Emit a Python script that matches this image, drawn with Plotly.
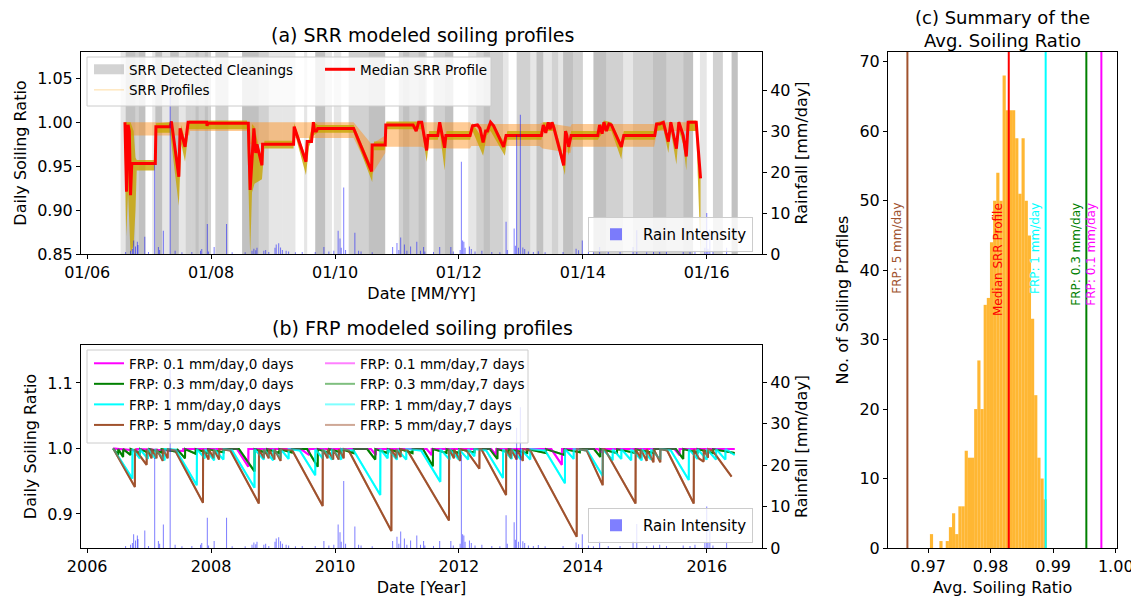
import numpy as np
import pandas as pd
import plotly.graph_objects as go

# ---------------- DATA ----------------
# Daily rain events: decimal year, mm/day
rain_year = [2006.62, 2006.70, 2006.73, 2006.75, 2006.78, 2006.81, 2006.82, 2006.93, 2006.99,
             2007.09, 2007.15, 2007.17, 2007.23, 2007.34, 2007.42, 2007.53, 2007.69, 2007.83,
             2007.85, 2007.94, 2007.96, 2008.05, 2008.25, 2008.34, 2008.55, 2008.66, 2008.69,
             2008.72, 2008.74, 2008.85, 2008.88, 2008.93, 2009.03, 2009.05, 2009.09, 2009.12,
             2009.15, 2009.21, 2009.25, 2009.36, 2009.47, 2009.68, 2009.82, 2009.90, 2009.98,
             2010.05, 2010.08, 2010.10, 2010.14, 2010.17, 2010.32, 2010.38, 2010.42, 2010.60,
             2010.93, 2011.00, 2011.03, 2011.06, 2011.12, 2011.16, 2011.22, 2011.32, 2011.38,
             2011.43, 2011.45, 2011.59, 2011.69, 2011.87, 2011.91, 2012.02, 2012.04, 2012.06,
             2012.08, 2012.10, 2012.17, 2012.20, 2012.26, 2012.37, 2012.53, 2012.66, 2012.76,
             2012.78, 2012.89, 2012.91, 2012.93, 2012.96, 2012.99, 2013.03, 2013.06, 2013.12,
             2013.20, 2013.28, 2013.39, 2013.68, 2013.89, 2013.93, 2013.99, 2014.09, 2014.17,
             2014.27, 2014.41, 2014.60, 2014.81, 2014.87, 2015.03, 2015.14, 2015.24, 2015.35,
             2015.62, 2015.73, 2015.81, 2015.97, 2016.00, 2016.02, 2016.05, 2016.10, 2016.32]
rain_mm = [0.5, 0.8, 1.2, 3.3, 1.8, 3.0, 2.2, 4.2, 0.5,
           21.8, 1.7, 1.0, 5.7, 43.0, 0.8, 0.4, 0.5, 0.8,
           1.2, 7.3, 0.6, 1.7, 7.3, 0.4, 0.4, 0.8, 1.3,
           0.9, 1.5, 0.8, 1.0, 0.5, 1.5, 2.3, 2.6, 1.6,
           1.0, 0.8, 0.6, 0.4, 0.5, 0.5, 1.7, 0.6, 0.8,
           5.7, 3.8, 1.5, 16.2, 1.0, 5.2, 0.8, 0.6, 0.4,
           1.7, 2.7, 1.0, 4.0, 2.3, 0.8, 1.8, 3.0, 0.8,
           1.7, 0.6, 0.5, 1.7, 1.7, 0.6, 1.0, 22.5, 3.3,
           3.0, 1.5, 1.8, 1.2, 0.6, 0.8, 0.5, 0.4, 7.9,
           1.0, 6.2, 2.0, 29.0, 1.5, 34.0, 1.6, 1.2, 0.6,
           0.5, 0.7, 0.4, 0.5, 1.3, 0.9, 3.3, 0.6, 0.4,
           1.7, 0.5, 0.5, 1.7, 5.8, 0.4, 0.6, 0.8, 0.5,
           0.6, 0.5, 0.8, 1.5, 10.0, 1.3, 6.0, 0.6, 1.5]

# SRR detected cleaning periods (decimal year) and number of overlapping detections
clean_start = [2006.54, 2006.62, 2006.78, 2006.83, 2007.05, 2007.10, 2007.21, 2007.34, 2007.48,
               2007.59, 2007.69, 2007.75, 2007.90, 2008.07, 2008.50, 2008.77, 2008.93, 2009.15,
               2009.50, 2009.68, 2009.84, 2009.98, 2010.22, 2010.54, 2011.03, 2011.10, 2011.35,
               2011.59, 2011.77, 2012.15, 2012.28, 2012.40, 2012.71, 2012.93, 2013.15, 2013.25,
               2013.36, 2013.50, 2013.68, 2013.84, 2014.17, 2014.38, 2014.65, 2014.81, 2015.13,
               2015.35, 2015.62, 2015.89, 2016.10, 2016.40]
clean_end = [2006.62, 2006.78, 2006.83, 2006.94, 2007.10, 2007.21, 2007.34, 2007.48, 2007.59,
             2007.69, 2008.00, 2007.80, 2007.95, 2008.28, 2008.77, 2008.93, 2009.15, 2009.36,
             2009.55, 2009.84, 2009.95, 2010.10, 2010.54, 2010.81, 2011.48, 2011.20, 2011.45,
             2011.77, 2011.91, 2012.28, 2012.71, 2012.50, 2012.80, 2013.15, 2013.25, 2013.36,
             2013.68, 2013.60, 2013.84, 2014.00, 2014.38, 2014.65, 2014.81, 2015.13, 2015.35,
             2015.62, 2015.78, 2016.00, 2016.26, 2016.50]
clean_count = [1, 3, 2, 3, 1, 3, 1, 3, 1,
               2, 2, 1, 1, 2, 3, 2, 1, 1,
               1, 3, 1, 1, 2, 3, 2, 1, 1,
               2, 3, 1, 2, 1, 1, 2, 1, 3,
               1, 1, 3, 2, 3, 2, 1, 2, 3,
               2, 3, 1, 2, 3]

# Median SRR profile (decimal year, daily soiling ratio)
median_year = [2006.61, 2006.635, 2006.66, 2006.68, 2006.70, 2006.72, 2007.10, 2007.11, 2007.34,
               2007.36, 2007.48, 2007.50, 2007.58, 2007.60, 2007.63, 2007.93, 2007.935, 2007.95,
               2008.60, 2008.63, 2008.69, 2008.72, 2008.74, 2008.82, 2008.83, 2009.33, 2009.34,
               2009.53, 2009.55, 2009.62, 2009.65, 2009.67, 2009.70, 2009.72, 2010.30, 2010.59,
               2010.60, 2010.81, 2010.82, 2011.26, 2011.31, 2011.35, 2011.40, 2011.48, 2011.50,
               2011.66, 2011.69, 2011.77, 2011.79, 2012.18, 2012.22, 2012.30, 2012.34, 2012.39,
               2012.43, 2012.46, 2012.51, 2012.56, 2012.72, 2012.76, 2013.33, 2013.36, 2013.40,
               2013.44, 2013.47, 2013.50, 2013.53, 2013.69, 2013.72, 2013.74, 2013.77, 2013.81,
               2014.24, 2014.27, 2014.31, 2014.34, 2014.38, 2014.42, 2014.46, 2014.62, 2014.66,
               2015.16, 2015.19, 2015.24, 2015.30, 2015.38, 2015.42, 2015.51, 2015.55, 2015.62,
               2015.67, 2015.70, 2015.83, 2015.90]
median_sr = [1.0, 0.921, 0.997, 0.99, 0.917, 0.953, 0.953, 0.995, 0.995,
             1.001, 0.938, 0.993, 0.972, 0.985, 1.0, 1.0, 0.996, 0.999,
             0.999, 0.923, 0.993, 0.965, 0.975, 0.951, 0.975, 0.975, 0.995,
             0.955, 0.978, 0.978, 1.0, 0.99, 0.99, 0.993, 0.993, 0.944,
             0.974, 0.974, 0.997, 0.997, 0.99, 1.0, 1.0, 0.968, 0.985,
             0.985, 1.0, 0.971, 0.985, 0.985, 0.996, 0.997, 0.993, 0.977,
             0.99, 0.99, 1.0, 0.996, 0.972, 0.985, 0.985, 0.997, 0.988,
             1.0, 0.992, 1.0, 0.994, 0.951, 0.99, 0.985, 0.972, 0.985,
             0.985, 0.997, 0.987, 1.0, 0.99, 0.998, 0.997, 0.972, 0.985,
             0.985, 0.998, 0.998, 1.0, 0.978, 1.0, 0.970, 1.0, 0.985,
             0.961, 1.0, 1.0, 0.936]

# Envelope of the bulk of the SRR profiles (lowest / highest value)
env_year = [2006.60, 2006.63, 2006.66, 2006.70, 2006.75, 2006.78, 2006.80, 2007.09, 2007.11,
            2007.34, 2007.48, 2007.52, 2007.58, 2007.64, 2008.58, 2008.63, 2008.66, 2008.70,
            2008.82, 2008.86, 2009.33, 2009.34, 2009.53, 2009.58, 2009.65, 2009.72, 2010.30,
            2010.60, 2010.63, 2010.80, 2010.83, 2011.40, 2011.48, 2011.52, 2011.66, 2011.69,
            2011.77, 2011.80, 2012.18, 2012.22, 2012.39, 2012.45, 2012.51, 2012.74, 2012.78,
            2013.33, 2013.36, 2013.53, 2013.71, 2013.74, 2013.77, 2013.81, 2014.24, 2014.34,
            2014.46, 2014.62, 2014.66, 2015.16, 2015.19, 2015.30, 2015.38, 2015.42, 2015.51,
            2015.55, 2015.62, 2015.67, 2015.70, 2015.83, 2015.90]
env_low = [0.99, 0.87, 0.92, 0.85, 0.86, 0.90, 0.945, 0.945, 0.988,
           0.988, 0.905, 0.975, 0.955, 0.992, 0.992, 0.85, 0.92, 0.93,
           0.935, 0.97, 0.97, 0.99, 0.94, 0.972, 0.985, 0.988, 0.988,
           0.932, 0.968, 0.968, 0.992, 0.992, 0.955, 0.98, 0.98, 0.99,
           0.945, 0.98, 0.98, 0.99, 0.962, 0.985, 0.99, 0.962, 0.98,
           0.98, 0.99, 0.99, 0.94, 0.98, 0.962, 0.98, 0.98, 0.99,
           0.99, 0.958, 0.98, 0.98, 0.99, 0.992, 0.965, 0.99, 0.952,
           0.99, 0.975, 0.945, 0.99, 0.99, 0.85]
env_high = [1.0, 1.0, 1.0, 1.0, 0.99, 0.96, 0.957, 0.957, 0.999,
            1.0, 0.95, 0.997, 0.98, 1.002, 1.002, 0.93, 0.998, 0.995,
            0.955, 0.979, 0.979, 0.999, 0.96, 0.982, 1.001, 0.997, 0.997,
            0.948, 0.978, 0.978, 1.001, 1.001, 0.972, 0.99, 0.99, 1.001,
            0.975, 0.99, 0.99, 0.999, 0.98, 0.995, 1.002, 0.976, 0.99,
            0.99, 1.0, 1.0, 0.955, 0.992, 0.976, 0.99, 0.99, 1.002,
            1.0, 0.976, 0.99, 0.99, 1.0, 1.002, 0.982, 1.002, 0.975,
            1.002, 0.99, 0.965, 1.002, 1.002, 0.94]
# spread of the SRR profiles in the long flat periods
spread_year = [2006.62, 2007.65, 2007.66, 2008.60, 2008.62, 2008.82, 2008.83, 2009.33, 2009.34,
               2010.30, 2010.59, 2010.81, 2010.82, 2011.40, 2011.45, 2012.18, 2012.20, 2013.30,
               2013.35, 2013.80, 2013.82, 2015.15, 2015.20, 2015.85]
spread_high = [1.0, 1.0, 1.0, 1.0, 1.0, 1.0, 1.0, 1.0, 1.0,
               1.0, 0.975, 0.985, 1.0, 1.0, 1.0, 1.0, 0.998, 0.998,
               1.0, 0.995, 0.998, 0.998, 1.0, 1.0]
spread_low = [0.985, 0.985, 0.99, 0.99, 0.975, 0.975, 0.975, 0.975, 0.982,
              0.982, 0.94, 0.965, 0.972, 0.972, 0.97, 0.97, 0.973, 0.973,
              0.97, 0.965, 0.972, 0.972, 0.99, 0.99]

# FRP profiles (decimal year, soiling ratio)
frp01 = [(2006.42, 1.0), (2006.80, 0.997), (2006.802, 0.999), (2007.55, 0.996), (2007.552, 0.999),
         (2008.42, 0.999), (2008.60, 0.972), (2008.602, 0.999), (2009.45, 0.999), (2009.58, 0.99),
         (2009.582, 0.999), (2010.58, 0.999), (2010.66, 0.99), (2010.662, 0.999), (2011.48, 0.999),
         (2011.56, 0.99), (2011.562, 0.999), (2012.52, 0.999), (2012.60, 0.99), (2012.602, 0.999),
         (2013.49, 0.999), (2013.66, 0.975), (2013.662, 0.999), (2014.24, 0.999), (2014.30, 0.994),
         (2014.302, 0.999), (2015.48, 0.999), (2015.56, 0.99), (2015.562, 0.999), (2016.45, 0.999)]
frp03 = [(2006.42, 1.0), (2006.50, 0.99), (2006.502, 0.999), (2006.58, 0.987), (2006.582, 0.999),
         (2006.70, 0.99), (2006.702, 0.999), (2006.85, 0.993), (2006.852, 0.999), (2007.00, 0.993),
         (2007.002, 0.999), (2007.20, 0.994), (2007.202, 0.999), (2007.45, 0.995), (2007.452, 0.999),
         (2007.58, 0.985), (2007.582, 0.999), (2007.75, 0.992), (2007.752, 0.999), (2007.95, 0.993),
         (2007.952, 0.999), (2008.20, 0.994), (2008.202, 0.999), (2008.45, 0.999), (2008.70, 0.965),
         (2008.702, 0.999), (2008.90, 0.993), (2008.902, 0.999), (2009.10, 0.993), (2009.102, 0.999),
         (2009.30, 0.994), (2009.302, 0.999), (2009.55, 0.999), (2009.72, 0.972), (2009.722, 0.999),
         (2009.90, 0.993), (2009.902, 0.999), (2010.10, 0.994), (2010.102, 0.999), (2010.30, 0.993),
         (2010.302, 0.999), (2010.52, 0.999), (2010.65, 0.983), (2010.652, 0.999), (2010.85, 0.993),
         (2010.852, 0.999), (2011.05, 0.994), (2011.052, 0.999), (2011.25, 0.993), (2011.252, 0.999),
         (2011.42, 0.999), (2011.58, 0.973), (2011.582, 0.999), (2011.80, 0.993), (2011.802, 0.999),
         (2012.00, 0.993), (2012.002, 0.999), (2012.25, 0.994), (2012.252, 0.999), (2012.50, 0.999),
         (2012.62, 0.984), (2012.622, 0.999), (2012.80, 0.994), (2012.802, 0.999), (2013.10, 0.993),
         (2013.102, 0.999), (2013.40, 0.993), (2013.402, 0.999), (2013.70, 0.99), (2013.702, 0.999),
         (2013.95, 0.994), (2013.952, 0.999), (2014.18, 0.999), (2014.28, 0.987), (2014.282, 0.999),
         (2014.55, 0.993), (2014.552, 0.999), (2014.85, 0.993), (2014.852, 0.999), (2015.15, 0.993),
         (2015.152, 0.999), (2015.50, 0.999), (2015.62, 0.984), (2015.622, 0.999), (2015.85, 0.994),
         (2015.852, 0.999), (2016.10, 0.993), (2016.102, 0.999), (2016.45, 0.993)]
frp1 = [(2006.42, 1.0), (2006.73, 0.954), (2006.732, 0.999), (2006.85, 0.985), (2006.852, 0.999),
        (2006.98, 0.984), (2006.982, 0.999), (2007.10, 0.985), (2007.102, 0.999), (2007.25, 0.982),
        (2007.252, 0.999), (2007.43, 0.998), (2007.77, 0.944), (2007.772, 0.999), (2007.90, 0.985),
        (2007.902, 0.999), (2008.05, 0.982), (2008.052, 0.999), (2008.20, 0.983), (2008.202, 0.999),
        (2008.34, 0.997), (2008.70, 0.940), (2008.702, 0.999), (2008.85, 0.983), (2008.852, 0.999),
        (2009.00, 0.982), (2009.002, 0.999), (2009.12, 0.985), (2009.122, 0.999), (2009.25, 0.984),
        (2009.252, 0.999), (2009.43, 0.997), (2009.68, 0.959), (2009.682, 0.999), (2009.80, 0.985),
        (2009.802, 0.999), (2009.95, 0.983), (2009.952, 0.999), (2010.10, 0.983), (2010.102, 0.999),
        (2010.30, 0.997), (2010.73, 0.929), (2010.732, 0.999), (2010.85, 0.985), (2010.852, 0.999),
        (2011.00, 0.983), (2011.002, 0.999), (2011.15, 0.983), (2011.152, 0.999), (2011.39, 0.997),
        (2011.70, 0.949), (2011.702, 0.999), (2011.85, 0.983), (2011.852, 0.999), (2012.00, 0.983),
        (2012.002, 0.999), (2012.15, 0.983), (2012.152, 0.999), (2012.25, 0.988), (2012.252, 0.999),
        (2012.44, 0.997), (2012.71, 0.955), (2012.712, 0.999), (2012.85, 0.984), (2012.852, 0.999),
        (2013.00, 0.983), (2013.002, 0.999), (2013.15, 0.983), (2013.152, 0.999), (2013.39, 0.997),
        (2013.71, 0.947), (2013.712, 0.999), (2013.85, 0.984), (2013.852, 0.999), (2014.07, 0.997),
        (2014.32, 0.958), (2014.322, 0.999), (2014.48, 0.982), (2014.482, 0.999), (2014.62, 0.984),
        (2014.622, 0.999), (2014.78, 0.982), (2014.782, 0.999), (2014.95, 0.982), (2014.952, 0.999),
        (2015.10, 0.983), (2015.102, 0.999), (2015.25, 0.983), (2015.252, 0.999), (2015.42, 0.997),
        (2015.71, 0.952), (2015.712, 0.999), (2015.85, 0.984), (2015.852, 0.999), (2016.00, 0.983),
        (2016.002, 0.999), (2016.15, 0.983), (2016.152, 0.999), (2016.30, 0.983), (2016.302, 0.999),
        (2016.45, 0.99)]
frp5 = [(2006.42, 1.0), (2006.77, 0.941), (2006.772, 0.999), (2006.96, 0.975), (2006.962, 0.999),
        (2007.04, 0.985), (2007.042, 0.999), (2007.12, 0.985), (2007.122, 0.999), (2007.22, 0.981),
        (2007.222, 0.999), (2007.30, 0.985), (2007.302, 0.999), (2007.42, 0.997), (2007.87, 0.917),
        (2007.872, 0.999), (2007.96, 0.983), (2007.962, 0.999), (2008.04, 0.985), (2008.042, 0.999),
        (2008.13, 0.983), (2008.132, 0.999), (2008.31, 0.997), (2008.77, 0.916), (2008.772, 0.999),
        (2008.85, 0.985), (2008.852, 0.999), (2008.93, 0.985), (2008.932, 0.999), (2009.02, 0.983),
        (2009.022, 0.999), (2009.12, 0.981), (2009.122, 0.999), (2009.31, 0.997), (2009.80, 0.912),
        (2009.802, 0.999), (2009.88, 0.985), (2009.882, 0.999), (2009.97, 0.983), (2009.972, 0.999),
        (2010.06, 0.983), (2010.062, 0.999), (2010.14, 0.985), (2010.142, 0.999), (2010.22, 0.997),
        (2010.91, 0.874), (2010.912, 0.999), (2010.99, 0.985), (2010.992, 0.999), (2011.06, 0.987),
        (2011.062, 0.999), (2011.17, 0.997), (2011.84, 0.890), (2011.842, 0.999), (2011.92, 0.985),
        (2011.922, 0.999), (2012.02, 0.981), (2012.022, 0.999), (2012.12, 0.997), (2012.33, 0.969),
        (2012.332, 0.999), (2012.36, 0.999), (2012.76, 0.929), (2012.762, 0.999), (2012.84, 0.985),
        (2012.842, 0.999), (2012.93, 0.983), (2012.932, 0.999), (2013.03, 0.981), (2013.032, 0.999),
        (2013.15, 0.997), (2013.90, 0.865), (2013.902, 0.999), (2014.06, 0.997), (2014.32, 0.944),
        (2014.322, 0.999), (2014.35, 0.999), (2014.85, 0.916), (2014.852, 0.999), (2014.93, 0.985),
        (2014.932, 0.999), (2015.03, 0.981), (2015.032, 0.999), (2015.14, 0.979), (2015.142, 0.999),
        (2015.25, 0.979), (2015.252, 0.999), (2015.36, 0.997), (2015.79, 0.916), (2015.792, 0.999),
        (2015.87, 0.985), (2015.95, 0.980), (2015.952, 0.999), (2016.02, 0.986), (2016.022, 0.999),
        (2016.09, 0.997), (2016.40, 0.957)]

# (c) histogram of average soiling ratio of the SRR profiles
hist_first_edge = 0.9703
hist_bin_width = 0.000505
hist_counts = [2, 0, 0, 1, 0, 1, 3, 5, 2, 6, 6, 14, 13, 13, 20, 27, 20, 35, 36, 44,
               50, 54, 50, 68, 63, 63, 63, 59, 51, 59, 50, 45, 33, 22, 13, 10, 7]
summary_labels = ["FRP: 5 mm/day", "Median SRR Profile", "FRP: 1 mm/day",
                  "FRP: 0.3 mm/day", "FRP: 0.1 mm/day"]
summary_values = [0.9667, 0.9829, 0.9888, 0.9953, 0.9977]
summary_colors = ["sienna", "red", "cyan", "green", "magenta"]

# ---------------- helpers ----------------
def dec2dt(v):
    y = int(np.floor(v))
    s = pd.Timestamp(year=y, month=1, day=1)
    e = pd.Timestamp(year=y + 1, month=1, day=1)
    return s + (e - s) * (v - y)


def dts(vals):
    return [dec2dt(v) for v in vals]


FONT = "DejaVu Sans"
OFF = 8                      # page body margin of the html page
W, H = 1139 - OFF, 601 - OFF


def px(x):                   # screen pixel -> paper fraction
    return (x - OFF) / W


def py(y):
    return 1 - (y - OFF) / H


fig = go.Figure()

# ---------------- panel (a) ----------------
fig.add_trace(go.Scatter(x=[None], y=[None], mode="lines", name="SRR Detected Cleanings",
                         line=dict(color="rgba(128,128,128,0.35)", width=10),
                         legend="legend", xaxis="x", yaxis="y"))
fig.add_trace(go.Scatter(x=[None], y=[None], mode="lines", name="SRR Profiles",
                         line=dict(color="rgba(255,165,0,0.25)", width=1.5),
                         legend="legend", xaxis="x", yaxis="y"))
# spread band (orange)
fig.add_trace(go.Scatter(x=dts(spread_year), y=spread_low, mode="lines", line=dict(width=0),
                         showlegend=False, hoverinfo="skip", xaxis="x", yaxis="y"))
fig.add_trace(go.Scatter(x=dts(spread_year), y=spread_high, mode="lines", line=dict(width=0),
                         fill="tonexty", fillcolor="rgba(255,140,20,0.45)",
                         showlegend=False, hoverinfo="skip", xaxis="x", yaxis="y"))
# envelope band (gold)
fig.add_trace(go.Scatter(x=dts(env_year), y=env_low, mode="lines", line=dict(width=0),
                         showlegend=False, hoverinfo="skip", xaxis="x", yaxis="y"))
fig.add_trace(go.Scatter(x=dts(env_year), y=env_high, mode="lines", line=dict(width=0),
                         fill="tonexty", fillcolor="rgba(200,165,0,0.8)",
                         showlegend=False, hoverinfo="skip", xaxis="x", yaxis="y"))
fig.add_trace(go.Scatter(x=dts(median_year), y=median_sr, mode="lines", name="Median SRR Profile",
                         line=dict(color="red", width=3), legend="legend2",
                         xaxis="x", yaxis="y"))
rain_dt = dts(rain_year)
bar_w = 6 * 86400000
fig.add_trace(go.Bar(x=rain_dt, y=rain_mm, width=bar_w, name="Rain Intensity",
                     marker=dict(color="rgba(0,0,255,0.5)", line=dict(width=0)),
                     legend="legend3", xaxis="x", yaxis="y2"))

# gray cleaning bands
for s, e, c in zip(clean_start, clean_end, clean_count):
    op = 1 - (1 - 0.2) ** c
    fig.add_shape(type="rect", xref="x", yref="y domain", x0=dec2dt(s), x1=dec2dt(e),
                  y0=0, y1=1, fillcolor="rgb(128,128,128)", opacity=op,
                  line=dict(width=0), layer="below")

# ---------------- panel (b) ----------------
frp_sets = [("0.1", frp01, "rgb(255,0,255)", "rgba(255,0,255,0.5)"),
            ("0.3", frp03, "rgb(0,128,0)", "rgba(0,128,0,0.5)"),
            ("1", frp1, "rgb(0,255,255)", "rgba(0,255,255,0.5)"),
            ("5", frp5, "rgb(160,82,45)", "rgba(160,82,45,0.5)")]
for lab, data, col, _ in frp_sets:
    fig.add_trace(go.Scatter(x=dts([d[0] for d in data]), y=[d[1] for d in data], mode="lines",
                             name=f"FRP: {lab} mm/day,0 days", line=dict(color=col, width=2),
                             legend="legend4", xaxis="x2", yaxis="y3"))
for lab, data, _, col in frp_sets:
    fig.add_trace(go.Scatter(x=dts([d[0] for d in data]), y=[d[1] for d in data], mode="lines",
                             name=f"FRP: {lab} mm/day,7 days", line=dict(color=col, width=2),
                             legend="legend5", xaxis="x2", yaxis="y3"))
fig.add_trace(go.Bar(x=rain_dt, y=rain_mm, width=bar_w, name="Rain Intensity",
                     marker=dict(color="rgba(0,0,255,0.5)", line=dict(width=0)),
                     legend="legend6", xaxis="x2", yaxis="y4"))

# ---------------- panel (c) ----------------
centers = [hist_first_edge + (i + 0.5) * hist_bin_width for i in range(len(hist_counts))]
fig.add_trace(go.Bar(x=centers, y=hist_counts, width=hist_bin_width, showlegend=False,
                     marker=dict(color="rgba(255,165,0,0.8)", line=dict(width=0)),
                     xaxis="x3", yaxis="y5"))
for lab, val, col in zip(summary_labels, summary_values, summary_colors):
    fig.add_shape(type="line", xref="x3", yref="y5 domain", x0=val, x1=val, y0=0, y1=1,
                  line=dict(color=col, width=2), layer="above")
    fig.add_annotation(x=val, y=0.7, xref="x3", yref="y5 domain", text=lab, textangle=-90,
                       showarrow=False, xanchor="right", yanchor="top", xshift=-1,
                       font=dict(family=FONT, size=12, color=col))

# ---------------- legend frames ----------------
fig.add_shape(type="rect", xref="paper", yref="paper", x0=px(87), x1=px(491), y0=py(106), y1=py(57),
              fillcolor="rgba(255,255,255,0.8)", line=dict(color="rgb(204,204,204)", width=1),
              layer="above")
fig.add_shape(type="rect", xref="paper", yref="paper", x0=px(87), x1=px(528), y0=py(443), y1=py(350),
              fillcolor="rgba(255,255,255,0.8)", line=dict(color="rgb(204,204,204)", width=1),
              layer="above")

# ---------------- titles ----------------
title_font = dict(family=FONT, size=19, color="black")
fig.add_annotation(x=px(422), y=py(35), xref="paper", yref="paper", showarrow=False,
                   xanchor="center", yanchor="middle",
                   text="(a) SRR modeled soiling profiles", font=title_font)
fig.add_annotation(x=px(422), y=py(328), xref="paper", yref="paper", showarrow=False,
                   xanchor="center", yanchor="middle",
                   text="(b) FRP modeled soiling profiles", font=title_font)
fig.add_annotation(x=px(1002), y=py(29), xref="paper", yref="paper", showarrow=False,
                   xanchor="center", yanchor="middle", align="center",
                   text="(c) Summary of the<br>Avg. Soiling Ratio",
                   font=dict(family=FONT, size=18, color="black"))

tick_font = dict(family=FONT, size=16, color="black")
lab_font = dict(family=FONT, size=16, color="black")
common = dict(showline=True, linecolor="black", linewidth=1, ticks="outside", ticklen=4,
              tickcolor="black", tickfont=tick_font, showgrid=False, zeroline=False,
              automargin=False)

xr = [dec2dt(2005.90), dec2dt(2016.89)]
legend_common = dict(font=dict(family=FONT, size=13.5, color="black"), bgcolor="rgba(0,0,0,0)",
                     borderwidth=0, xanchor="left", yanchor="top", itemwidth=30,
                     tracegroupgap=0, traceorder="normal")
rain_legend = dict(font=dict(family=FONT, size=15, color="black"),
                   bgcolor="rgba(255,255,255,0.8)", bordercolor="rgb(204,204,204)", borderwidth=1,
                   xanchor="left", yanchor="top", itemwidth=44)
fig.update_layout(
    width=W, height=H, margin=dict(l=0, r=0, t=0, b=0),
    paper_bgcolor="white", plot_bgcolor="white", barmode="overlay",
    font=dict(family=FONT, color="black"),
    xaxis=dict(type="date", domain=[px(81), px(762)], anchor="y", range=xr, tickformat="%m/%y",
               dtick="M24", tick0="2006-01-01", mirror=True,
               title=dict(text="Date [MM/YY]", font=lab_font, standoff=6), **common),
    yaxis=dict(domain=[py(254), py(52)], anchor="x", range=[0.85, 1.08], dtick=0.05,
               tickformat=".2f", title=dict(text="Daily Soiling Ratio", font=lab_font, standoff=6),
               **common),
    yaxis2=dict(overlaying="y", side="right", anchor="x", range=[0, 49.3], dtick=10,
                title=dict(text="Rainfall [mm/day]", font=lab_font, standoff=6), **common),
    xaxis2=dict(type="date", domain=[px(81), px(762)], anchor="y3", range=xr, tickformat="%Y",
                dtick="M24", tick0="2006-01-01", mirror=True,
                title=dict(text="Date [Year]", font=lab_font, standoff=6), **common),
    yaxis3=dict(domain=[py(548), py(345)], anchor="x2", range=[0.848, 1.158], dtick=0.1,
                tickformat=".1f", title=dict(text="Daily Soiling Ratio", font=lab_font, standoff=6),
                **common),
    yaxis4=dict(overlaying="y3", side="right", anchor="x2", range=[0, 49], dtick=10,
                title=dict(text="Rainfall [mm/day]", font=lab_font, standoff=6), **common),
    xaxis3=dict(domain=[px(888), px(1117)], anchor="y5", range=[0.9636, 1.0002], dtick=0.01,
                tickformat=".2f", mirror=True,
                title=dict(text="Avg. Soiling Ratio", font=lab_font, standoff=6), **common),
    yaxis5=dict(domain=[py(548), py(52)], anchor="x3", range=[0, 71.4], dtick=10, mirror=True,
                title=dict(text="No. of Soiling Profiles", font=lab_font, standoff=6), **common),
    legend=dict(x=px(89), y=py(54), **legend_common),
    legend2=dict(x=px(320), y=py(54), **legend_common),
    legend3=dict(x=px(588), y=py(217), **rain_legend),
    legend4=dict(x=px(89), y=py(348), **legend_common),
    legend5=dict(x=px(320), y=py(348), **legend_common),
    legend6=dict(x=px(588), y=py(508), **rain_legend),
)

fig.write_html("out.html")
